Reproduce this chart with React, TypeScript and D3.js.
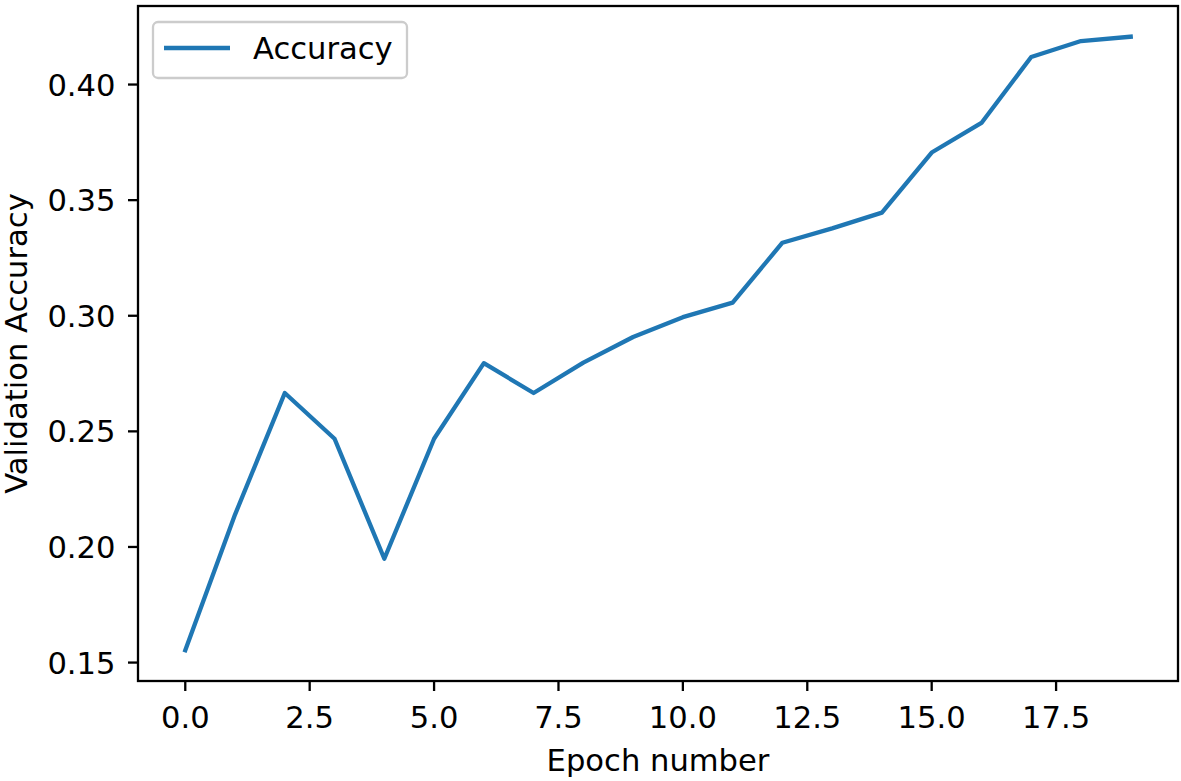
import React from "react";
import * as d3 from "d3";

const epochs: number[] = [0, 1, 2, 3, 4, 5, 6, 7, 8, 9, 10, 11, 12, 13, 14, 15, 16, 17, 18, 19];
const accuracy: number[] = [
  0.1553, 0.214, 0.2666, 0.2468, 0.1949, 0.2468, 0.2795, 0.2666, 0.2797, 0.2908,
  0.2994, 0.3057, 0.3316, 0.3378, 0.3446, 0.3706, 0.3834, 0.4119, 0.4188, 0.4207,
];
const xTicks: number[] = [0, 2.5, 5, 7.5, 10, 12.5, 15, 17.5];
const yTicks: number[] = [0.15, 0.2, 0.25, 0.3, 0.35, 0.4];
const seriesName = "Accuracy";
const xLabel = "Epoch number";
const yLabel = "Validation Accuracy";

const W = 1181;
const H = 781;
const left = 138;
const right = 1178;
const top = 6;
const bottom = 681;
const FONT = "'DejaVu Sans', sans-serif";
const FS = 30.6;
const COLOR = "#1f77b4";

export default function App() {
  const xMin = d3.min(epochs)!;
  const xMax = d3.max(epochs)!;
  const xm = (xMax - xMin) * 0.05;
  const yMin = d3.min(accuracy)!;
  const yMax = d3.max(accuracy)!;
  const ym = (yMax - yMin) * 0.05;

  const x = d3.scaleLinear().domain([xMin - xm, xMax + xm]).range([left, right]);
  const y = d3.scaleLinear().domain([yMin - ym, yMax + ym]).range([bottom, top]);

  const line = d3
    .line<number>()
    .x((_, i) => x(epochs[i]))
    .y((d) => y(d));

  const tickLen = 10;
  const axisW = 2.3;

  return (
    <svg
      width={W}
      height={H}
      style={{ position: "absolute", left: 0, top: 0, background: "#fff" }}
      fontFamily={FONT}
    >
      <rect x={0} y={0} width={W} height={H} fill="#fff" />
      <defs>
        <clipPath id="plot">
          <rect x={left} y={top} width={right - left} height={bottom - top} />
        </clipPath>
      </defs>
      <path
        d={line(accuracy) || ""}
        fill="none"
        stroke={COLOR}
        strokeWidth={4.3}
        strokeLinejoin="round"
        strokeLinecap="square"
        clipPath="url(#plot)"
      />
      <rect
        x={left}
        y={top}
        width={right - left}
        height={bottom - top}
        fill="none"
        stroke="#000"
        strokeWidth={axisW}
        strokeLinejoin="miter"
      />
      {xTicks.map((t) => (
        <g key={"x" + t}>
          <line x1={x(t)} x2={x(t)} y1={bottom} y2={bottom + tickLen} stroke="#000" strokeWidth={axisW} />
          <text x={x(t)} y={727.5} textAnchor="middle" fontSize={FS} fill="#000">
            {t.toFixed(1)}
          </text>
        </g>
      ))}
      {yTicks.map((t) => (
        <g key={"y" + t}>
          <line x1={left - tickLen} x2={left} y1={y(t)} y2={y(t)} stroke="#000" strokeWidth={axisW} />
          <text x={left - 22.5} y={y(t)} dy="0.36em" textAnchor="end" fontSize={FS} fill="#000">
            {t.toFixed(2)}
          </text>
        </g>
      ))}
      <text x={(left + right) / 2} y={771} textAnchor="middle" fontSize={FS} fill="#000">
        {xLabel}
      </text>
      <text
        transform={`translate(26.5, ${(top + bottom) / 2}) rotate(-90)`}
        textAnchor="middle"
        fontSize={FS}
        fill="#000"
      >
        {yLabel}
      </text>
      <g>
        <rect
          x={153}
          y={22}
          width={254}
          height={56}
          rx={5}
          fill="#fff"
          fillOpacity={0.8}
          stroke="#cccccc"
          strokeWidth={2.3}
        />
        <line x1={164} x2={230} y1={48} y2={48} stroke={COLOR} strokeWidth={4.3} />
        <text x={253} y={59} fontSize={FS} fill="#000">
          {seriesName}
        </text>
      </g>
    </svg>
  );
}
